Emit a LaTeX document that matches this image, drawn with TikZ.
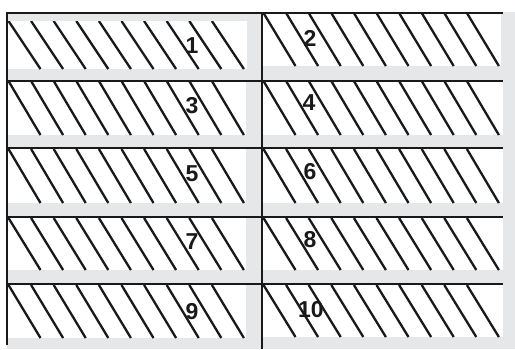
\documentclass[tikz,border=0pt]{standalone}
\usepackage{fontspec}
\setmainfont{Liberation Sans}
\definecolor{bg}{HTML}{E6E7E8}
\begin{document}
\begin{tikzpicture}[x=1pt,y=-1pt,
  hatch/.style={line width=2.3pt, black!90},
  frame/.style={line width=2pt, black!90},
  num/.style={font=\fontsize{23}{23}\selectfont\bfseries, inner sep=0pt, text=black!90}]
\useasboundingbox (0,0) rectangle (515,349);
\fill[white] (0,0) rectangle (515,349);
\fill[bg] (7,12) rectangle (515,349);
% cells: left x, top y, right x, bottom y
\foreach \L/\T/\R/\B in {
  8/21/247/69, 8/81/246/135, 8/149/246/203, 8/218/246/270, 8/285/246/338,
  263/13/501/66, 263/81/503/135, 263/149/503/203, 263/218/503/270, 263/285/503/337}{
  \fill[white] (\L,\T) rectangle (\R,\B);
  \begin{scope}
    \clip (\L,\T) rectangle (\R,\B);
    \foreach \i in {0,...,9}{
      \draw[hatch] ({\L+0.5+\i*22.6},\T) -- ({\L+32.5+\i*22.6},\B);
    }
  \end{scope}
}
% frame lines
\foreach \y in {12.5,80.5,148,216.5,284}{
  \draw[frame] (7,\y) -- (503,\y);
}
\draw[frame] (7,12) -- (7,345);
\draw[frame] (262,12) -- (262,349);
% labels
\node[num] (n1) at (192,46) {1};
\node[num] (n2) at (310,38) {2};
\node[num] (n3) at (192,106) {3};
\node[num] (n4) at (309,103) {4};
\node[num] (n5) at (192,174) {5};
\node[num] (n6) at (310,172) {6};
\node[num] (n7) at (192,242) {7};
\node[num] (n8) at (310,240) {8};
\node[num] (n9) at (192,312) {9};
\node[num] (n10) at (311,310) {10};
\end{tikzpicture}
\end{document}
